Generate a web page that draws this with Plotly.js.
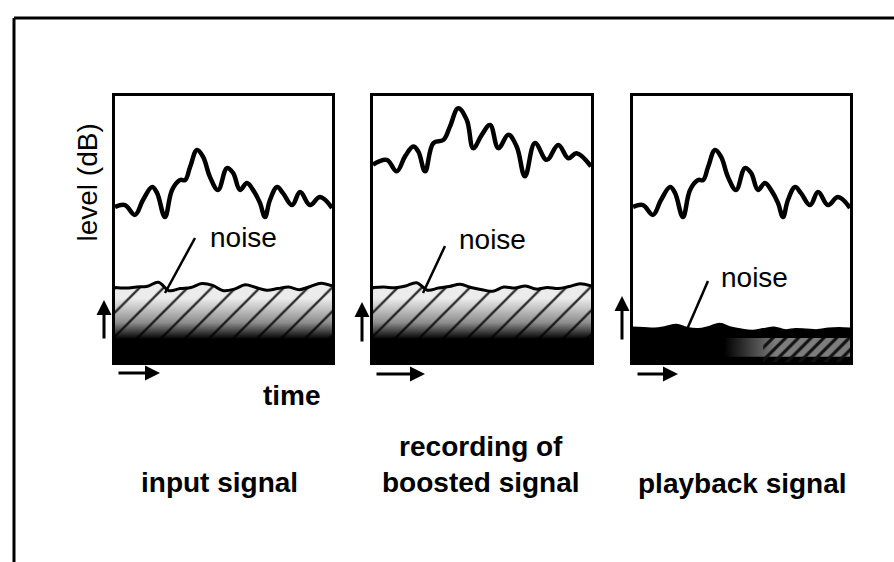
<!DOCTYPE html>
<html>
<head>
<meta charset="utf-8">
<script src="https://cdn.plot.ly/plotly-3.0.1.min.js"></script>
<style>
  html, body { margin: 0; padding: 0; background: #fff; }
  #chart { width: 894px; height: 562px; }
</style>
</head>
<body>
<div id="chart"></div>
<script>
// ---------- data (time: 0-100 across a panel, level: 0-100 up a panel) ----------
const timeInput = [0, 4.6, 9.2, 12.9, 17.1, 19.4, 23.0, 26.3, 30.0, 32.3, 34.6, 37.8, 40.6, 43.8, 47.5,
                   51.6, 54.4, 57.6, 60.8, 63.6, 66.8, 69.1, 71.4, 74.7, 77.4, 81.6, 85.3, 89.9, 94.5, 100];
const levelInput = [58.3, 59.0, 55.3, 60.9, 65.8, 63.5, 54.5, 64.7, 68.4, 68.4, 73.3, 79.7, 77.1, 69.5, 64.7,
                    72.9, 71.1, 64.7, 67.3, 64.7, 59.8, 54.5, 60.9, 65.8, 63.5, 59.0, 63.9, 59.0, 62.0, 57.9];

const timeBoosted = [0, 6.3, 10.9, 14.7, 18.5, 20.8, 23.9, 27.7, 32.3, 35.3, 39.1, 43.0, 46.0, 49.9, 53.7,
                     57.5, 62.1, 65.9, 69.7, 74.3, 79.7, 85.0, 89.6, 93.4, 100];
const levelBoosted = [74.2, 76.0, 71.7, 77.3, 81.0, 79.1, 71.7, 82.3, 83.5, 88.5, 95.4, 91.0, 80.4, 85.4, 89.1,
                      80.4, 85.4, 81.0, 69.8, 82.3, 76.0, 81.6, 76.6, 78.5, 73.5];

const timePlayback = [0, 4.6, 9.2, 12.9, 17.1, 19.4, 23.0, 26.3, 30.0, 32.3, 34.6, 37.8, 40.6, 43.8, 47.5,
                      51.6, 54.4, 57.6, 60.8, 63.6, 66.8, 69.1, 71.4, 74.7, 77.4, 81.6, 85.3, 89.9, 94.5, 100];
const levelPlayback = [58.3, 59.0, 55.3, 60.9, 65.8, 63.5, 54.5, 64.7, 68.4, 68.4, 73.3, 79.7, 77.1, 69.5, 64.7,
                       72.9, 71.1, 64.7, 67.3, 64.7, 59.8, 54.5, 60.9, 65.8, 63.5, 59.0, 63.9, 59.0, 62.0, 57.9];

const noiseTime = [0, 5, 10, 15, 20, 25, 30, 35, 40, 45, 50, 55, 60, 65, 70, 75, 80, 85, 90, 95, 100];
const noiseInput = [28.0, 27.8, 28.2, 28.5, 30.0, 26.8, 27.6, 28.0, 29.5, 28.8, 26.8, 27.4, 29.0, 28.0, 27.0,
                    27.6, 28.2, 27.2, 28.4, 29.6, 28.6];
const noiseBoosted = [28.0, 28.2, 27.9, 28.6, 29.8, 27.0, 27.8, 28.4, 29.2, 28.0, 27.2, 26.6, 28.2, 27.8, 28.6,
                      27.4, 28.0, 27.6, 28.4, 29.4, 28.6];
const noisePlayback = [12.8, 12.6, 12.4, 13.0, 13.8, 12.6, 12.2, 13.0, 14.2, 12.8, 12.0, 11.6, 12.2, 12.8, 11.8,
                       12.2, 12.0, 11.8, 12.4, 12.6, 12.4];

// dark tape floor under the noise (level) and the lighter stretch in the playback panel
const floorTime = [0, 100];
const floorLevel = [24, 24];
const lightTime = [42, 100];
const lightLow = [2, 2];
const lightHigh = [9, 9];

const panelLabels = ['input signal', 'recording of<br>boosted signal', 'playback signal'];
const noiseLabel = 'noise';
const yLabel = 'level (dB)';
const xLabel = 'time';

// ---------- layout helpers (pixel -> paper) ----------
const W = 894, H = 562;
const px = v => v / W;
const py = v => 1 - v / H;

const boxes = [
  { x0: 115, x1: 332 },
  { x0: 373, x1: 591 },
  { x0: 633, x1: 850 }
];
const boxTop = 96, boxBottom = 362;

const FONT = 'Liberation Sans, Arial, Helvetica, sans-serif';
const axisIds = ['', '2', '3'];

const traces = [];
const signals = [
  [timeInput, levelInput, noiseInput],
  [timeBoosted, levelBoosted, noiseBoosted],
  [timePlayback, levelPlayback, noisePlayback]
];

signals.forEach((s, i) => {
  const xa = 'x' + axisIds[i], ya = 'y' + axisIds[i];
  if (i < 2) {
    // hatched noise region
    traces.push({
      x: noiseTime, y: s[2], xaxis: xa, yaxis: ya, type: 'scatter', mode: 'lines',
      line: { color: '#000', width: 3, shape: 'spline' }, fill: 'tozeroy',
      fillcolor: 'rgba(0,0,0,0)',
      fillpattern: { shape: '/', size: 17, solidity: 0.14, fgcolor: '#1a1a1a', bgcolor: '#ececec', fgopacity: 0.9 },
      hoverinfo: 'skip'
    });
    // dark floor fading upward
    traces.push({
      x: floorTime, y: floorLevel, xaxis: xa, yaxis: ya, type: 'scatter', mode: 'lines',
      line: { width: 0 }, fill: 'tozeroy',
      fillgradient: { type: 'vertical', start: 0, stop: 24,
        colorscale: [[0, 'rgba(0,0,0,1)'], [0.36, 'rgba(0,0,0,1)'], [0.62, 'rgba(0,0,0,0.4)'], [1, 'rgba(0,0,0,0)']] },
      hoverinfo: 'skip'
    });
  } else {
    traces.push({
      x: noiseTime, y: s[2], xaxis: xa, yaxis: ya, type: 'scatter', mode: 'lines',
      line: { color: '#000', width: 3, shape: 'spline' }, fill: 'tozeroy', fillcolor: '#000',
      hoverinfo: 'skip'
    });
    traces.push({
      x: lightTime, y: lightLow, xaxis: xa, yaxis: ya, type: 'scatter', mode: 'lines',
      line: { width: 0 }, hoverinfo: 'skip'
    });
    traces.push({
      x: lightTime, y: lightHigh, xaxis: xa, yaxis: ya, type: 'scatter', mode: 'lines',
      line: { width: 0 }, fill: 'tonexty',
      fillgradient: { type: 'horizontal', start: 42, stop: 66,
        colorscale: [[0, '#000'], [1, '#7d7d7d']] },
      hoverinfo: 'skip'
    });
    traces.push({
      x: [60, 100], y: lightHigh, xaxis: xa, yaxis: ya, type: 'scatter', mode: 'lines',
      line: { width: 0 }, fill: 'tozeroy', fillcolor: 'rgba(0,0,0,0)',
      fillpattern: { shape: '/', size: 9, solidity: 0.35, fgcolor: '#111', bgcolor: 'rgba(0,0,0,0)' },
      hoverinfo: 'skip'
    });
  }
  // signal
  traces.push({
    x: s[0], y: s[1], xaxis: xa, yaxis: ya, type: 'scatter', mode: 'lines',
    line: { color: '#000', width: 4.5, shape: 'spline', smoothing: 1.1 },
    hoverinfo: 'skip'
  });
});

const layout = {
  width: W, height: H,
  margin: { l: 0, r: 0, t: 0, b: 0 },
  paper_bgcolor: '#fff', plot_bgcolor: '#fff',
  showlegend: false,
  font: { family: FONT, color: '#000' },
  annotations: [],
  shapes: []
};

boxes.forEach((b, i) => {
  const ax = {
    domain: [px(b.x0), px(b.x1)], range: [0, 100], showgrid: false, zeroline: false,
    showticklabels: false, ticks: '', showline: true, mirror: true, linecolor: '#000', linewidth: 3,
    fixedrange: true
  };
  const ay = Object.assign({}, ax, { domain: [py(boxBottom), py(boxTop)] });
  layout['xaxis' + axisIds[i]] = ax;
  layout['yaxis' + axisIds[i]] = Object.assign(ay, { anchor: 'x' + axisIds[i] });
  layout['xaxis' + axisIds[i]].anchor = 'y' + axisIds[i];
});

// outer frame of the figure
layout.shapes.push(
  { type: 'line', xref: 'paper', yref: 'paper', x0: px(14), x1: px(894), y0: py(18), y1: py(18), line: { color: '#000', width: 3 } },
  { type: 'line', xref: 'paper', yref: 'paper', x0: px(14), x1: px(14), y0: py(18), y1: py(562), line: { color: '#000', width: 3 } }
);

// noise leader lines
const leaders = [
  [195, 238, 165, 293],
  [445, 246, 423, 293],
  [708, 281, 685, 334]
];
leaders.forEach(l => layout.shapes.push({
  type: 'line', xref: 'paper', yref: 'paper', x0: px(l[0]), y0: py(l[1]), x1: px(l[2]), y1: py(l[3]),
  line: { color: '#000', width: 2.5 }
}));

// noise labels
const noisePos = [[243.5, 237], [492.5, 240], [754.5, 277]];
noisePos.forEach(p => layout.annotations.push({
  xref: 'paper', yref: 'paper', x: px(p[0]), y: py(p[1]), text: noiseLabel, showarrow: false,
  xanchor: 'center', yanchor: 'middle', font: { family: FONT, size: 28, color: '#000' }
}));

// up arrows (level) and right arrows (time)
const upArrows = [[104, 300, 40], [362, 302, 41], [622, 296, 45]];
upArrows.forEach(a => layout.annotations.push({
  xref: 'paper', yref: 'paper', x: px(a[0]), y: py(a[1]), ax: 0, ay: a[2], axref: 'pixel', ayref: 'pixel',
  text: '', showarrow: true, arrowhead: 2, arrowsize: 1, arrowwidth: 3, arrowcolor: '#000', standoff: 0
}));
const rightArrows = [[160, 373, -43], [425, 374, -50], [678, 374, -42]];
rightArrows.forEach(a => layout.annotations.push({
  xref: 'paper', yref: 'paper', x: px(a[0]), y: py(a[1]), ax: a[2], ay: 0, axref: 'pixel', ayref: 'pixel',
  text: '', showarrow: true, arrowhead: 2, arrowsize: 1, arrowwidth: 3, arrowcolor: '#000', standoff: 0
}));

// axis words
layout.annotations.push({
  xref: 'paper', yref: 'paper', x: px(87), y: py(182.5), text: yLabel, textangle: -90, showarrow: false,
  xanchor: 'center', yanchor: 'middle', font: { family: FONT, size: 28, color: '#000' }
});
layout.annotations.push({
  xref: 'paper', yref: 'paper', x: px(292), y: py(395), text: '<b>' + xLabel + '</b>', showarrow: false,
  xanchor: 'center', yanchor: 'middle', font: { family: FONT, size: 28, color: '#000' }
});

// panel labels
const labelPos = [[219.5, 482], [481, 465], [742, 483]];
labelPos.forEach((p, i) => layout.annotations.push({
  xref: 'paper', yref: 'paper', x: px(p[0]), y: py(p[1]), text: panelLabels[i].split('<br>').map(t => '<b>' + t + '</b>').join('<br>'),
  showarrow: false, xanchor: 'center', yanchor: 'middle', align: 'center',
  font: { family: FONT, size: 28, color: '#000' }
}));

Plotly.newPlot('chart', traces, layout, { staticPlot: true, displayModeBar: false });
</script>
</body>
</html>
